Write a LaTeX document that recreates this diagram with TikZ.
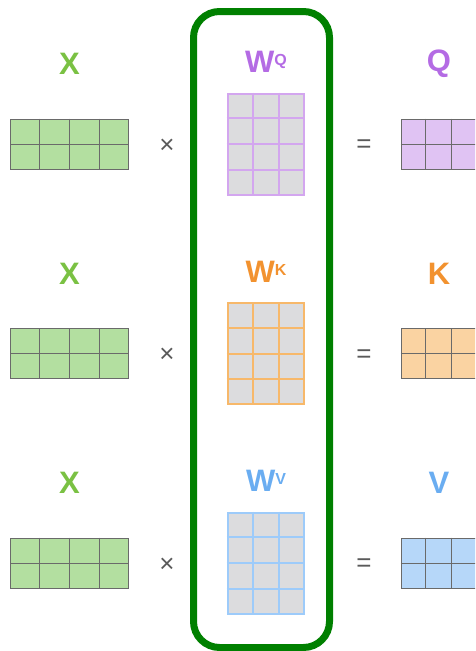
\documentclass[tikz,border=0pt]{standalone}
\usepackage{fontspec}
\setmainfont{Liberation Sans}
\usepackage{tikz}
\usetikzlibrary{positioning, calc}

\definecolor{framegreen}{HTML}{008000}
\definecolor{edgegray}{HTML}{6A6A6A}
\definecolor{signgray}{HTML}{5A5A5A}
\definecolor{cellgray}{HTML}{DCDCDE}
\definecolor{xfill}{HTML}{B3DFA0}
\definecolor{xlab}{HTML}{7AC143}
\definecolor{qlab}{HTML}{B46BE4}
\definecolor{qfill}{HTML}{E0C3F3}
\definecolor{qbord}{HTML}{D3A6EF}
\definecolor{klab}{HTML}{F2922F}
\definecolor{kfill}{HTML}{FAD3A2}
\definecolor{kbord}{HTML}{F7B86A}
\definecolor{vlab}{HTML}{6AADF1}
\definecolor{vfill}{HTML}{B6D7F9}
\definecolor{vbord}{HTML}{9DCBFA}

\begin{document}
\begin{tikzpicture}[
  x=1pt, y=-1pt,
  lab/.style   = {font=\fontsize{31}{31}\selectfont\bfseries, inner sep=0pt},
  sign/.style  = {font=\fontsize{26}{26}\selectfont, text=signgray, inner sep=0pt},
  xmat/.style  = {draw=edgegray, fill=xfill, line width=1pt, inner sep=0pt,
                  minimum width=118pt, minimum height=50pt},
  wmat/.style  = {fill=cellgray, line width=2pt, inner sep=0pt,
                  minimum width=76pt, minimum height=101pt},
  omat/.style  = {draw=edgegray, line width=1pt, inner sep=0pt,
                  minimum width=75pt, minimum height=50pt},
]
  \useasboundingbox (0,0) rectangle (475,651);
  \clip (0,0) rectangle (475,651);

  % the weight frame
  \node[draw=framegreen, line width=7pt, rounded corners=26pt, inner sep=0pt,
        minimum width=136pt, minimum height=636pt] (frame) at (261.5,329.5) {};

  \foreach \n/\out/\dy/\fcol/\lcol/\bcol in {q/Q/0/qfill/qlab/qbord,
                                               k/K/209.5/kfill/klab/kbord,
                                               v/V/419/vfill/vlab/vbord}{
    % input X
    \node[lab, text=xlab] (xl\n) at (69.5,{64+\dy}) {X};
    \node[xmat] (x\n) at (69.5,{144+\dy}) {};
    \foreach \i in {1,2,3}
      \draw[edgegray, line width=1pt] ($(x\n.north west)!\i/4!(x\n.north east)$)
        -- ($(x\n.south west)!\i/4!(x\n.south east)$);
    \draw[edgegray, line width=1pt] (x\n.west) -- (x\n.east);

    \node[sign] (times\n) at (167,{146+\dy}) {×};

    % weight W
    \node[lab, text=\lcol] (wl\n) at (266,{62+\dy})
      {W\raisebox{7pt}{\fontsize{16}{16}\selectfont\bfseries\out}};
    \node[wmat, draw=\bcol] (w\n) at (265.5,{144+\dy}) {};
    \foreach \i in {1,2}
      \draw[\bcol, line width=2pt] ($(w\n.north west)!\i/3!(w\n.north east)$)
        -- ($(w\n.south west)!\i/3!(w\n.south east)$);
    \foreach \i in {1,2,3}
      \draw[\bcol, line width=2pt] ($(w\n.north west)!\i/4!(w\n.south west)$)
        -- ($(w\n.north east)!\i/4!(w\n.south east)$);

    \node[sign] (eq\n) at (364,{146.5+\dy}) {=};

    % output
    \node[lab, text=\lcol] (ol\n) at (439,{64+\dy}) {\out};
    \node[omat, fill=\fcol] (o\n) at (438.5,{144+\dy}) {};
    \foreach \i in {1,2}
      \draw[edgegray, line width=1pt] ($(o\n.north west)!\i/3!(o\n.north east)$)
        -- ($(o\n.south west)!\i/3!(o\n.south east)$);
    \draw[edgegray, line width=1pt] (o\n.west) -- (o\n.east);
  }
\end{tikzpicture}
\end{document}
